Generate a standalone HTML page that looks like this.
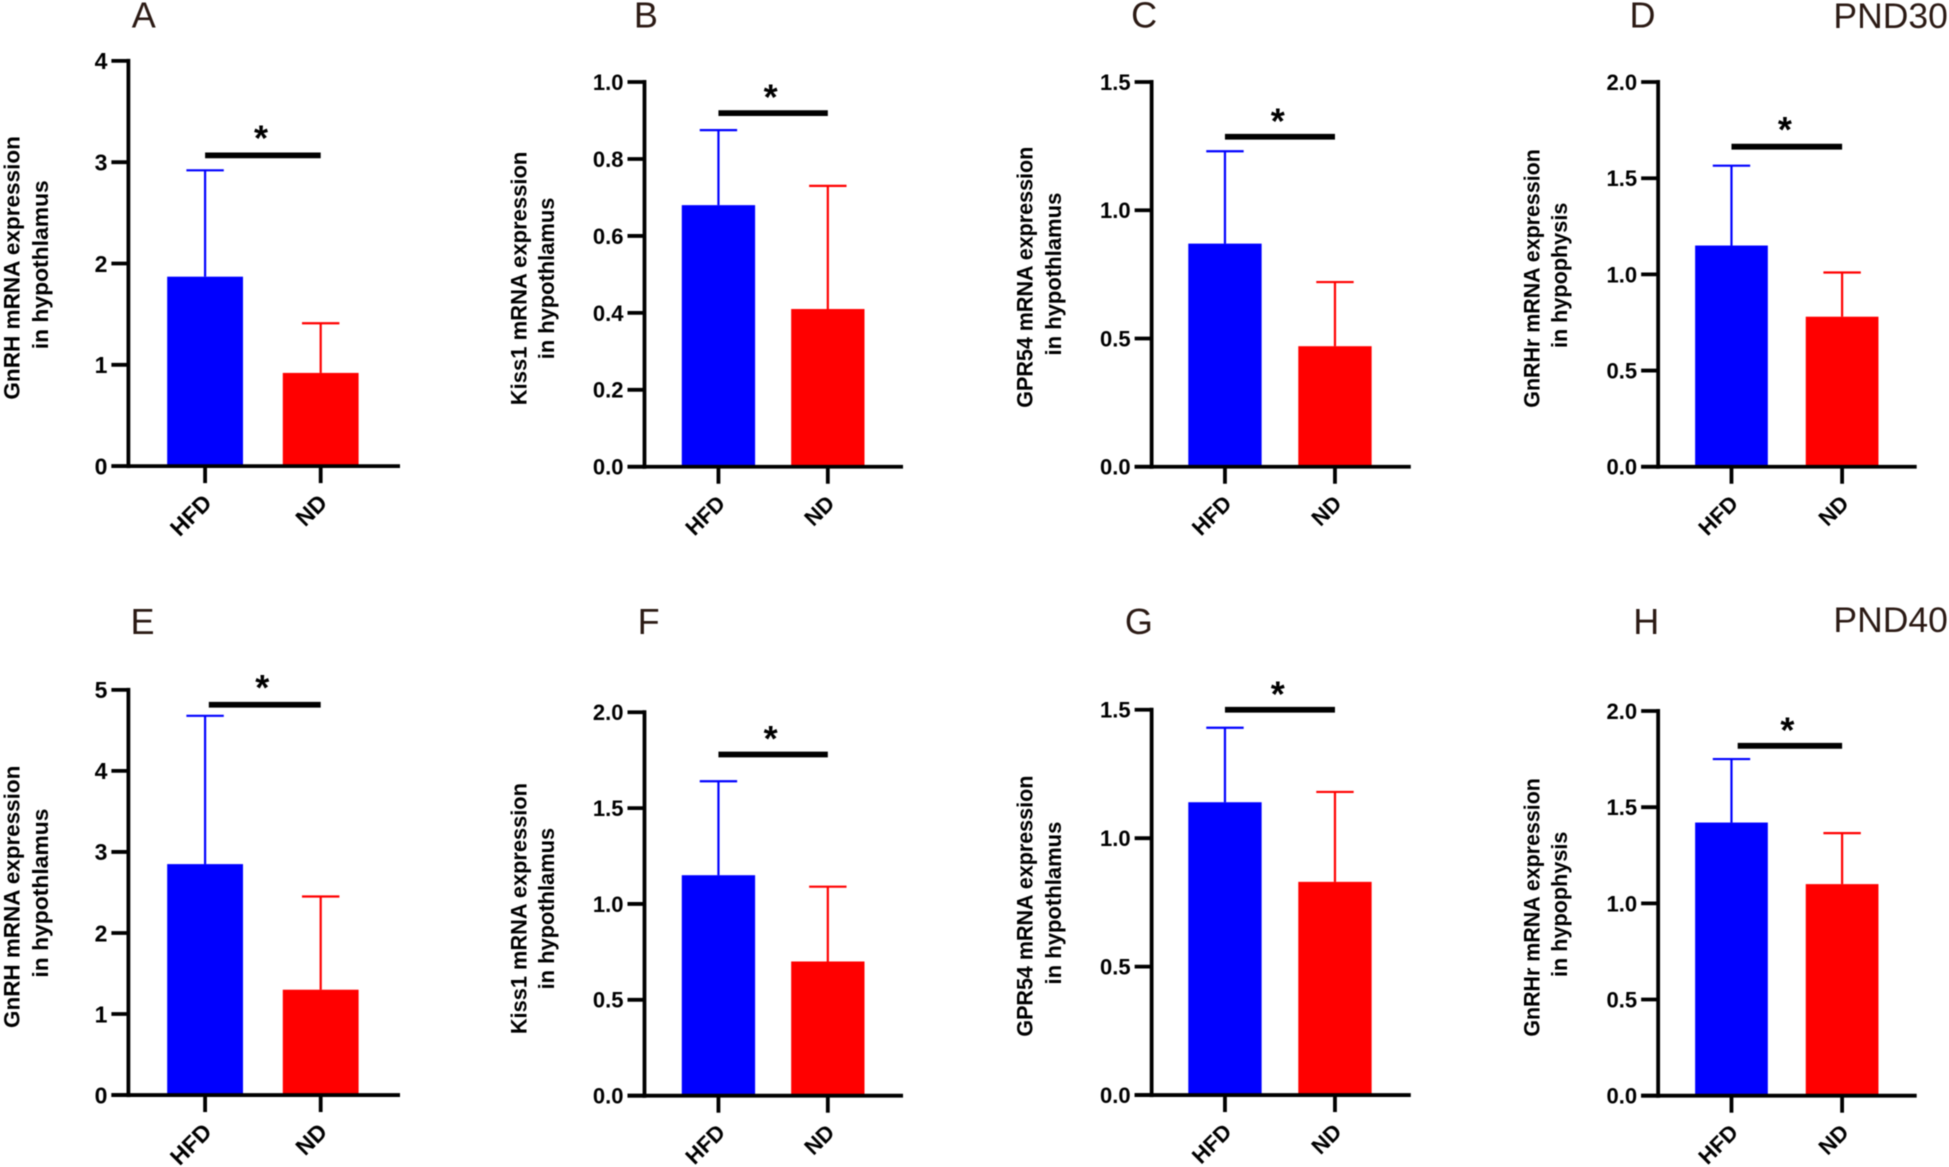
<!DOCTYPE html>
<html lang="en">
<head>
<meta charset="utf-8">
<title>mRNA expression in hypothalamus and hypophysis, PND30 and PND40</title>
<style>
html,body{margin:0;padding:0;background:#fff;width:1949px;height:1167px;overflow:hidden}
svg{display:block;filter:blur(0.45px)}
text{font-family:"Liberation Sans",Arial,sans-serif}
</style>
</head>
<body>
<svg id="figure" xmlns="http://www.w3.org/2000/svg" width="1949" height="1167" viewBox="0 0 1949 1167"></svg>
<script>
// ---- chart data ----
const panelLetters = ['A','B','C','D','E','F','G','H'];
const categories = ['HFD','ND'];
const hfdMeans = [1.87,0.68,0.87,1.15,2.85,1.15,1.14,1.42];
const hfdUpper = [2.92,0.875,1.23,1.565,4.68,1.64,1.43,1.75];
const ndMeans = [0.92,0.41,0.47,0.78,1.30,0.70,0.83,1.10];
const ndUpper = [1.41,0.73,0.72,1.01,2.45,1.09,1.18,1.365];
const axisMaxes = [4,1,1.5,2,5,2,1.5,2];
const tickLabels = [
  ['0','1','2','3','4'],
  ['0.0','0.2','0.4','0.6','0.8','1.0'],
  ['0.0','0.5','1.0','1.5'],
  ['0.0','0.5','1.0','1.5','2.0'],
  ['0','1','2','3','4','5'],
  ['0.0','0.5','1.0','1.5','2.0'],
  ['0.0','0.5','1.0','1.5'],
  ['0.0','0.5','1.0','1.5','2.0']
];
const titleLine1 = ['GnRH mRNA expression','Kiss1 mRNA expression','GPR54 mRNA expression','GnRHr mRNA expression','GnRH mRNA expression','Kiss1 mRNA expression','GPR54 mRNA expression','GnRHr mRNA expression'];
const titleLine2 = ['in hypothlamus','in hypothlamus','in hypothlamus','in hypophysis','in hypothlamus','in hypothlamus','in hypothlamus','in hypophysis'];

// ---- layout (separate from data) ----
const S = 1949/1568;
const frames = [
  {ax:103.3,top:49,bot:375,t1:165,t2:258,bw:61,end:321.8,sigY:125,sigL:165,sigR:258,starX:210,starY:108,lx:106,ly:22,tx1:10,tx2:33,tcy:215.5,tcy2:213,tfs:22.6,tl:212,tl2:136,fs:23,cfs:23},
  {ax:518.5,top:66,bot:375.5,t1:578,t2:666,bw:59,end:726.5,sigY:91,sigL:578,sigR:666,starX:620,starY:75,lx:510,ly:22,tx1:418,tx2:440,tcy:224,tcy2:224,tfs:22,tl:204,tl2:130,fs:22,cfs:22},
  {ax:926.5,top:66,bot:375.5,t1:985.5,t2:1074,bw:59,end:1135,sigY:110,sigL:985.5,sigR:1074,starX:1028,starY:94,lx:910,ly:22,tx1:825,tx2:848,tcy:223,tcy2:220.5,tfs:22,tl:210,tl2:131,fs:22,cfs:22},
  {ax:1334,top:66,bot:375.5,t1:1393,t2:1482,bw:58.5,end:1542,sigY:118,sigL:1393,sigR:1482,starX:1436,starY:101,lx:1311,ly:22,tx1:1233,tx2:1255,tcy:224,tcy2:221.5,tfs:22,tl:208,tl2:117,fs:22,cfs:22},
  {ax:103.3,top:555,bot:881,t1:165,t2:258,bw:61,end:321.8,sigY:567,sigL:168,sigR:258,starX:211,starY:550,lx:105,ly:510,tx1:10,tx2:33,tcy:721.5,tcy2:718.5,tfs:22.6,tl:211,tl2:136,fs:23,cfs:23},
  {ax:518.5,top:573,bot:881.5,t1:578,t2:666,bw:59,end:726.5,sigY:607,sigL:578,sigR:666,starX:620,starY:591,lx:513,ly:510,tx1:418,tx2:440,tcy:731,tcy2:731,tfs:22,tl:202,tl2:130,fs:22,cfs:22},
  {ax:926.5,top:571,bot:881,t1:985.5,t2:1074,bw:59,end:1135,sigY:571,sigL:985.5,sigR:1074,starX:1028,starY:555,lx:905,ly:510,tx1:825,tx2:848,tcy:729,tcy2:726.5,tfs:22,tl:210,tl2:131,fs:22,cfs:22},
  {ax:1334,top:572,bot:881.5,t1:1393,t2:1482,bw:58.5,end:1542,sigY:600,sigL:1398,sigR:1482,starX:1438,starY:584,lx:1314,ly:510,tx1:1233,tx2:1255,tcy:730,tcy2:727.5,tfs:22,tl:208,tl2:117,fs:22,cfs:22}
];
const HFD_COLOR = '#0000ff';
const ND_COLOR = '#ff0000';
const INK = '#000000';
const NS = 'http://www.w3.org/2000/svg';
const root = document.getElementById('figure');

function make(parent, tag, attrs) {
  const el = document.createElementNS(NS, tag);
  for (const k in attrs) el.setAttribute(k, attrs[k]);
  parent.appendChild(el);
  return el;
}

function yScale(f, maxV) {
  return function (v) { return (f.bot - (f.bot - f.top) * v / maxV) * S; };
}

function drawBar(g, f, y, cx, mean, upper, color, name) {
  const hw = f.bw * S / 2;
  const cap = 18.7;
  const base = y(0);
  const bar = make(g, 'rect', {x: cx - hw, y: y(mean), width: hw * 2, height: base - y(mean), fill: color});
  
  
  const stem = make(g, 'line', {x1: cx, x2: cx, y1: y(mean), y2: y(upper), stroke: color, 'stroke-width': 2.2});
  
  
  const capLine = make(g, 'line', {x1: cx - cap, x2: cx + cap, y1: y(upper), y2: y(upper), stroke: color, 'stroke-width': 2.2});
  
  
}

function drawPanel(i) {
  const f = frames[i];
  const y = yScale(f, axisMaxes[i]);
  const ax = f.ax * S, end = f.end * S, base = y(0);
  const c1 = f.t1 * S, c2 = f.t2 * S;

  const g = make(root, 'g', {});
  
  

  const letter = make(g, 'text', {x: f.lx * S, y: f.ly * S, 'font-size': 36, fill: '#2b1a14'});
  letter.textContent = panelLetters[i];
  
  

  // bars
  drawBar(g, f, y, c1, hfdMeans[i], hfdUpper[i], HFD_COLOR, 'hfd');
  drawBar(g, f, y, c2, ndMeans[i], ndUpper[i], ND_COLOR, 'nd');

  // axes
  const yAxis = make(g, 'line', {x1: ax, x2: ax, y1: y(axisMaxes[i]) - 2, y2: base + 2, stroke: INK, 'stroke-width': 3.8});
  
  
  const xAxis = make(g, 'line', {x1: ax - 17, x2: end, y1: base, y2: base, stroke: INK, 'stroke-width': 3.8});
  
  

  // y ticks
  const labels = tickLabels[i];
  labels.forEach(function (lab) {
    const yy = y(parseFloat(lab));
    const tick = make(g, 'line', {x1: ax - 17, x2: ax, y1: yy, y2: yy, stroke: INK, 'stroke-width': 3.8});
    
    
    const t = make(g, 'text', {x: ax - 21, y: yy + f.fs * 0.36, 'font-size': f.fs, 'font-weight': 'bold', 'text-anchor': 'end', fill: INK});
    t.textContent = lab;
    
    
  });

  // x ticks + labels
  [c1, c2].forEach(function (cx, k) {
    const tick = make(g, 'line', {x1: cx, x2: cx, y1: base, y2: base + 17, stroke: INK, 'stroke-width': 3.8});
    
    
    const lx = cx + 8, ly = base + 38;
    const t = make(g, 'text', {x: lx, y: ly, 'font-size': f.cfs, 'font-weight': 'bold', 'text-anchor': 'end', fill: INK, transform: 'rotate(-45 ' + lx + ' ' + ly + ')'});
    t.textContent = categories[k];
    
    
  });

  // y title
  const tx1 = f.tx1 * S + 7, tx2 = f.tx2 * S + 7, cy = f.tcy * S, cy2 = f.tcy2 * S;
  const t1 = make(g, 'text', {x: tx1, y: cy, 'font-size': f.tfs, 'font-weight': 'bold', 'text-anchor': 'middle', fill: INK, textLength: f.tl * S, lengthAdjust: 'spacingAndGlyphs', transform: 'rotate(-90 ' + tx1 + ' ' + cy + ')'});
  t1.textContent = titleLine1[i];
  
  
  const t2 = make(g, 'text', {x: tx2, y: cy2, 'font-size': f.tfs, 'font-weight': 'bold', 'text-anchor': 'middle', fill: INK, textLength: f.tl2 * S, lengthAdjust: 'spacingAndGlyphs', transform: 'rotate(-90 ' + tx2 + ' ' + cy2 + ')'});
  t2.textContent = titleLine2[i];
  
  

  // significance
  const sig = make(g, 'line', {x1: f.sigL * S, x2: f.sigR * S, y1: f.sigY * S, y2: f.sigY * S, stroke: INK, 'stroke-width': 5.8});
  
  
  const star = make(g, 'text', {x: f.starX * S, y: f.starY * S + 16.5, 'font-size': 36, 'font-weight': 'bold', 'text-anchor': 'middle', fill: INK});
  star.textContent = '*';
  
  
}

panelLetters.forEach(function (_, i) { drawPanel(i); });

const pnd30 = make(root, 'text', {x: 1475 * S, y: 22.5 * S, 'font-size': 35.5, fill: '#2b1a14'});
pnd30.textContent = 'PND30';


const pnd40 = make(root, 'text', {x: 1475 * S, y: 508.5 * S, 'font-size': 35.5, fill: '#2b1a14'});
pnd40.textContent = 'PND40';


</script>
</body>
</html>
